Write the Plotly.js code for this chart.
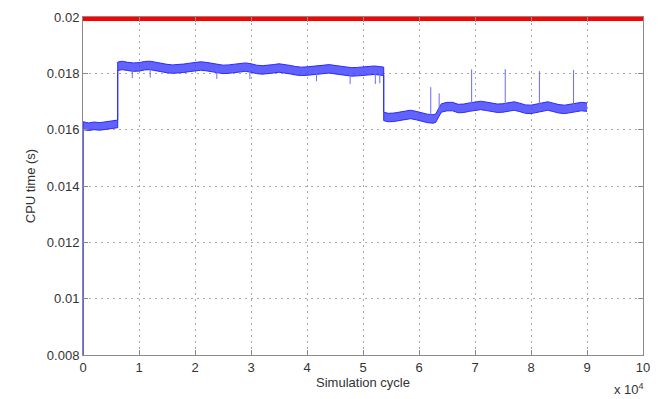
<!DOCTYPE html>
<html>
<head>
<meta charset="utf-8">
<script src="https://cdn.plot.ly/plotly-3.0.1.min.js"></script>
<style>html,body{margin:0;padding:0;background:#fff;}#chart{width:667px;height:399px;}</style>
</head>
<body>
<div id="chart"></div>
<script>
// Simulation cycle (x 10^4)
const cycleX = [0, 0, 0.1, 0.2, 0.3, 0.4, 0.5, 0.62, 0.62, 0.7, 0.8, 0.9, 1.0, 1.1, 1.2, 1.3, 1.4, 1.5, 1.6, 1.7, 1.8, 1.9, 2.0, 2.1, 2.2, 2.3, 2.4, 2.5, 2.6, 2.7, 2.8, 2.9, 3.0, 3.1, 3.2, 3.3, 3.4, 3.5, 3.6, 3.7, 3.8, 3.9, 4.0, 4.1, 4.2, 4.3, 4.4, 4.5, 4.6, 4.7, 4.8, 4.9, 5.0, 5.1, 5.2, 5.3, 5.37, 5.37, 5.45, 5.55, 5.65, 5.75, 5.85, 5.95, 6.05, 6.15, 6.25, 6.3, 6.35, 6.4, 6.5, 6.6, 6.7, 6.8, 6.9, 7.0, 7.1, 7.2, 7.3, 7.4, 7.5, 7.6, 7.7, 7.8, 7.9, 8.0, 8.1, 8.2, 8.3, 8.4, 8.5, 8.6, 8.7, 8.8, 8.9, 9.0];
// upper envelope of CPU time band (s)
const cpuHigh = [0.0070, 0.01628, 0.01624, 0.01627, 0.01625, 0.01628, 0.01631, 0.01634, 0.01840, 0.01843, 0.01839, 0.01837, 0.01838, 0.01842, 0.01843, 0.01839, 0.01835, 0.01832, 0.01830, 0.01831, 0.01833, 0.01836, 0.01839, 0.01841, 0.01839, 0.01836, 0.01832, 0.01829, 0.01830, 0.01832, 0.01835, 0.01837, 0.01834, 0.01829, 0.01827, 0.01828, 0.01831, 0.01834, 0.01832, 0.01828, 0.01824, 0.01822, 0.01823, 0.01825, 0.01828, 0.01830, 0.01831, 0.01828, 0.01825, 0.01822, 0.01820, 0.01821, 0.01823, 0.01826, 0.01826, 0.01824, 0.01822, 0.01662, 0.01658, 0.01659, 0.01663, 0.01667, 0.01669, 0.01665, 0.01659, 0.01655, 0.01653, 0.01656, 0.01675, 0.01692, 0.01697, 0.01697, 0.01690, 0.01691, 0.01695, 0.01699, 0.01701, 0.01698, 0.01694, 0.01691, 0.01692, 0.01696, 0.01699, 0.01694, 0.01688, 0.01687, 0.01691, 0.01696, 0.01699, 0.01694, 0.01689, 0.01687, 0.01690, 0.01694, 0.01697, 0.01695];
// lower envelope of CPU time band (s)
const cpuLow = [0.0070, 0.01600, 0.01597, 0.01600, 0.01598, 0.01601, 0.01604, 0.01607, 0.01810, 0.01813, 0.01810, 0.01807, 0.01808, 0.01812, 0.01813, 0.01809, 0.01805, 0.01802, 0.01800, 0.01801, 0.01803, 0.01806, 0.01809, 0.01811, 0.01809, 0.01806, 0.01802, 0.01799, 0.01800, 0.01802, 0.01805, 0.01807, 0.01804, 0.01799, 0.01797, 0.01798, 0.01801, 0.01804, 0.01802, 0.01798, 0.01794, 0.01792, 0.01793, 0.01795, 0.01798, 0.01800, 0.01801, 0.01798, 0.01795, 0.01792, 0.01790, 0.01791, 0.01793, 0.01796, 0.01796, 0.01794, 0.01792, 0.01632, 0.01628, 0.01629, 0.01633, 0.01637, 0.01639, 0.01635, 0.01629, 0.01625, 0.01623, 0.01626, 0.01645, 0.01662, 0.01667, 0.01667, 0.01660, 0.01661, 0.01665, 0.01669, 0.01671, 0.01668, 0.01664, 0.01661, 0.01662, 0.01666, 0.01669, 0.01664, 0.01658, 0.01657, 0.01661, 0.01666, 0.01669, 0.01664, 0.01659, 0.01657, 0.01660, 0.01664, 0.01667, 0.01665];
// isolated upward spikes
const spikeX = [6.21, 6.36, 6.94, 7.54, 8.15, 8.76];
const spikeBase = [0.01638, 0.01660, 0.01680, 0.01680, 0.01676, 0.01677];
const spikeTop = [0.01751, 0.01729, 0.01814, 0.01815, 0.01808, 0.01812];
// isolated downward dips
const dipX = [0.88, 1.2, 2.39, 2.98, 4.17, 4.77, 5.22, 5.3];
const dipBase = [0.01822, 0.01828, 0.01816, 0.01820, 0.01810, 0.01806, 0.01810, 0.01808];
const dipBottom = [0.01783, 0.01785, 0.01780, 0.01780, 0.01772, 0.01762, 0.01762, 0.01765];
// deadline line
const limitX = [0, 10];
const limitY = [0.02, 0.02];
// ticks
const xTickVals = [0, 1, 2, 3, 4, 5, 6, 7, 8, 9, 10];
const xTickText = ['0', '1', '2', '3', '4', '5', '6', '7', '8', '9', '10'];
const yTickVals = [0.008, 0.010, 0.012, 0.014, 0.016, 0.018, 0.020];
const yTickText = ['0.008', '0.01', '0.012', '0.014', '0.016', '0.018', '0.02'];

const segX = [], segY = [];
spikeX.forEach((x, i) => { segX.push(x, x, null); segY.push(spikeBase[i], spikeTop[i], null); });
dipX.forEach((x, i) => { segX.push(x, x, null); segY.push(dipBase[i], dipBottom[i], null); });

const blue = '#2a2aff';
const traces = [
  {x: cycleX, y: cpuLow, type: 'scatter', mode: 'lines', line: {color: blue, width: 1}, hoverinfo: 'skip', showlegend: false},
  {x: cycleX, y: cpuHigh, type: 'scatter', mode: 'lines', fill: 'tonexty', fillcolor: 'rgba(70,70,255,0.85)', line: {color: blue, width: 1}, hoverinfo: 'skip', showlegend: false},
  {x: segX, y: segY, type: 'scatter', mode: 'lines', line: {color: '#6a6aff', width: 1}, connectgaps: false, hoverinfo: 'skip', showlegend: false},
  {x: limitX, y: limitY, type: 'scatter', mode: 'lines', line: {color: '#ff0000', width: 8}, hoverinfo: 'skip', showlegend: false}
];

const font = {family: 'Liberation Sans, Arial, sans-serif', size: 13, color: '#333'};
const axisCommon = {
  showline: true, linecolor: '#8a8a8a', linewidth: 1, mirror: 'ticks',
  ticks: 'inside', ticklen: 5, tickcolor: '#8a8a8a',
  showgrid: true, gridcolor: '#a8a8a8', griddash: '2px,4px', gridwidth: 1,
  zeroline: false, tickfont: font
};
const layout = {
  width: 667, height: 399,
  margin: {l: 83, r: 24, t: 17, b: 44},
  paper_bgcolor: '#fff', plot_bgcolor: '#fff',
  font: font,
  showlegend: false,
  xaxis: Object.assign({}, axisCommon, {
    range: [0, 10], tickvals: xTickVals, ticktext: xTickText,
    title: {text: 'Simulation cycle', font: font, standoff: 3}
  }),
  yaxis: Object.assign({}, axisCommon, {
    range: [0.008, 0.02], tickvals: yTickVals, ticktext: yTickText,
    title: {text: 'CPU time (s)', font: font, standoff: 8}
  }),
  annotations: [{
    text: 'x 10<sup>4</sup>', xref: 'paper', yref: 'paper', x: 1.005, y: -0.1,
    xanchor: 'right', yanchor: 'middle', showarrow: false, font: font
  }]
};
Plotly.newPlot('chart', traces, layout, {displayModeBar: false, staticPlot: true});
</script>
</body>
</html>
